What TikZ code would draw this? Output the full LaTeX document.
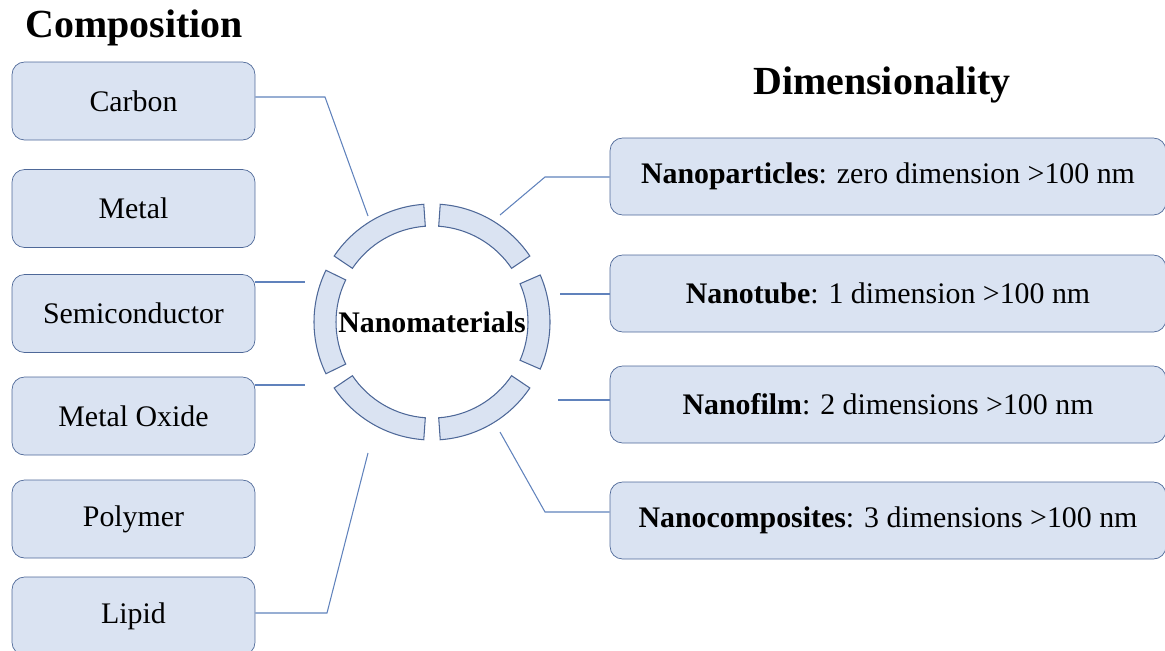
\documentclass[tikz,border=0pt]{standalone}
\usepackage{fontspec}
\setmainfont{Liberation Serif}
\usepackage{tikz}
\usepackage{xcolor}
\definecolor{boxfill}{RGB}{218,227,242}
\definecolor{boxedge}{RGB}{78,104,152}
\definecolor{linkblue}{RGB}{96,130,188}
\tikzset{compbox/.style={draw=boxedge, fill=boxfill, rounded corners=0.25cm,
   minimum width=4.86cm, minimum height=1.56cm, inner sep=0pt,
   font=\fontsize{17}{20}\selectfont},
 dimbox/.style={compbox, minimum width=11.12cm, minimum height=1.54cm},
 link/.style={draw=linkblue, line width=0.6pt},
 ringseg/.style={draw=boxedge, fill=boxfill, line width=0.6pt},
 heading/.style={font=\fontsize{22.7}{26}\selectfont\bfseries},
 }

\begin{document}
\begin{tikzpicture}[x=0.02cm, y=-0.02cm]
        \useasboundingbox (0,0) rectangle (1165,650);
        \clip (0,0) rectangle (1165,650);
        \node[heading] (comptitle) at (134,28) {Composition};
        \node[heading] (dimtitle) at (882,85) {Dimensionality};
        % composition column
        \foreach \name/\txt/\y in {carbon/Carbon/101, metal/Metal/208.5,
            semi/Semiconductor/313.5, oxide/Metal Oxide/416,
            polymer/Polymer/519, lipid/Lipid/616} {
            \node[compbox] (\name) at (133.5,\y) {\txt};
        }
        % dimensionality column
        \node[dimbox] (particles) at (888,176.5) {\textbf{Nanoparticles}: zero dimension >100 nm};
        \node[dimbox] (tube) at (888,293.5) {\textbf{Nanotube}: 1 dimension >100 nm};
        \node[dimbox] (film) at (888,404.5) {\textbf{Nanofilm}: 2 dimensions >100 nm};
        \node[dimbox] (comp) at (888,520.5) {\textbf{Nanocomposites}: 3 dimensions >100 nm};
        % ring
        \coordinate (ring) at (432,322);
        \foreach \a/\b in {94/146, 154/206, 214/266, 274/326, 336.5/383.5, 34/86} {
            \draw[ringseg] ([shift={(\a:118)}]ring) arc[start angle=\a, end angle=\b, radius=118]
                -- ([shift={(\b:96)}]ring) arc[start angle=\b, end angle=\a, radius=96] -- cycle;
        }
        \node[font=\fontsize{17}{20}\selectfont\bfseries] (mat) at (ring) {Nanomaterials};
        % connectors
        \coordinate (c1) at (325,97);
        \coordinate (c2) at (368,216);
        \draw[link] (carbon.east |- c1) -- (c1) -- (c2);
        \coordinate (s1) at (305,282);
        \draw[link] (semi.east |- s1) -- (s1);
        \coordinate (o1) at (305,385);
        \draw[link] (oxide.east |- o1) -- (o1);
        \coordinate (l1) at (327,613);
        \coordinate (l2) at (368,453);
        \draw[link] (lipid.east |- l1) -- (l1) -- (l2);
        \coordinate (p1) at (545,177);
        \coordinate (p2) at (500,215);
        \draw[link] (particles.west |- p1) -- (p1) -- (p2);
        \coordinate (t1) at (560,294);
        \draw[link] (tube.west |- t1) -- (t1);
        \coordinate (f1) at (558,400);
        \draw[link] (film.west |- f1) -- (f1);
        \coordinate (k1) at (545,512);
        \coordinate (k2) at (500,432);
        \draw[link] (comp.west |- k1) -- (k1) -- (k2);
    \end{tikzpicture}
\end{document}
